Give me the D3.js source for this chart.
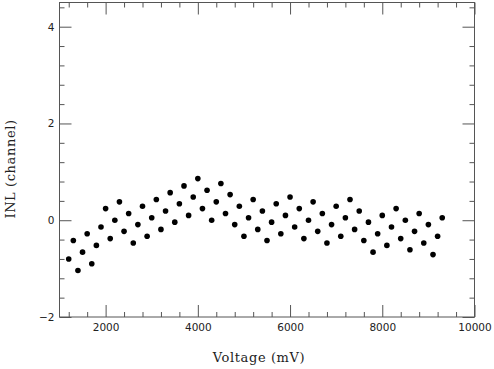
<!DOCTYPE html>
<html>
<head>
<meta charset="utf-8">
<script src="https://cdn.jsdelivr.net/npm/d3@7"></script>
<style>
  html, body { margin: 0; padding: 0; background: #fff; }
  svg { display: block; }
</style>
</head>
<body>
<svg id="chart" width="494" height="369"></svg>
<script>
// Data: voltage (mV) and INL (channel)
const voltages = d3.range(1200, 9301, 100);
const inl = [
  -0.80, -0.42, -1.04, -0.66, -0.28, -0.90, -0.52, -0.14, 0.24, -0.38,
   0.00,  0.38, -0.23,  0.14, -0.47, -0.09,  0.29, -0.33, 0.05,  0.43,
  -0.19,  0.19,  0.57, -0.04,  0.34,  0.71,  0.10,  0.48, 0.86,  0.24,
   0.62,  0.00,  0.38,  0.76,  0.14,  0.53, -0.09,  0.29, -0.33, 0.05,
   0.43, -0.19,  0.19, -0.42, -0.04,  0.34, -0.28,  0.10, 0.48, -0.14,
   0.24, -0.38,  0.00,  0.38, -0.23,  0.14, -0.47, -0.09, 0.29, -0.33,
   0.05,  0.43, -0.19,  0.19, -0.42, -0.04, -0.66, -0.28, 0.10, -0.52,
  -0.14,  0.24, -0.38,  0.00, -0.61, -0.23,  0.14, -0.47, -0.09, -0.71,
  -0.33,  0.05
];
const xMajorTicks = [2000, 4000, 6000, 8000, 10000];
const xMinorTicks = d3.range(1200, 10000, 400).filter(v => v % 2000 !== 0);
const yMajorTicks = [-2, 0, 2, 4];
const yMinorTicks = d3.range(-1.6, 4.5, 0.4).map(v => Math.round(v * 10) / 10).filter(v => Math.abs(v % 2) > 1e-6);
const xLabel = "Voltage (mV)";
const yLabel = "INL (channel)";

const svg = d3.select("#chart");
const L = 59.5, R = 474.5, T = 2.5, B = 317;
const x = d3.scaleLinear().domain([1000, 10000]).range([L, R]);
const y = d3.scaleLinear().domain([-2, 4.5]).range([B, T]);

const frameColor = "#555";
const majorLen = 12, minorLen = 5;

// Bottom axis (ticks inward)
const bottomMajor = d3.axisBottom(x).tickValues(xMajorTicks).tickSizeInner(-majorLen).tickSizeOuter(0).tickPadding(7).tickFormat(d3.format("d"));
const bottomMinor = d3.axisBottom(x).tickValues(xMinorTicks).tickSizeInner(-minorLen).tickSizeOuter(0).tickFormat("");
const topMajor = d3.axisTop(x).tickValues(xMajorTicks).tickSizeInner(-majorLen).tickSizeOuter(0).tickFormat("");
const topMinor = d3.axisTop(x).tickValues(xMinorTicks).tickSizeInner(-minorLen).tickSizeOuter(0).tickFormat("");
const leftMajor = d3.axisLeft(y).tickValues(yMajorTicks).tickSizeInner(-majorLen).tickSizeOuter(0).tickPadding(5).tickFormat(d => d < 0 ? "\u2212" + Math.abs(d) : String(d));
const leftMinor = d3.axisLeft(y).tickValues(yMinorTicks).tickSizeInner(-minorLen).tickSizeOuter(0).tickFormat("");
const rightMajor = d3.axisRight(y).tickValues(yMajorTicks).tickSizeInner(-majorLen).tickSizeOuter(0).tickFormat("");
const rightMinor = d3.axisRight(y).tickValues(yMinorTicks).tickSizeInner(-minorLen).tickSizeOuter(0).tickFormat("");

function styleAxis(g) {
  g.select(".domain").remove();
  g.selectAll(".tick line").attr("stroke", frameColor).attr("stroke-width", 1);
  g.selectAll(".tick text").attr("fill", "#222").style("font-family", "'DejaVu Sans', sans-serif").style("font-size", "10.5px");
}

svg.append("g").attr("transform", `translate(0,${B})`).call(bottomMajor).call(styleAxis);
svg.append("g").attr("transform", `translate(0,${B})`).call(bottomMinor).call(styleAxis);
svg.append("g").attr("transform", `translate(0,${T})`).call(topMajor).call(styleAxis);
svg.append("g").attr("transform", `translate(0,${T})`).call(topMinor).call(styleAxis);
svg.append("g").attr("transform", `translate(${L},0)`).call(leftMajor).call(styleAxis);
svg.append("g").attr("transform", `translate(${L},0)`).call(leftMinor).call(styleAxis);
svg.append("g").attr("transform", `translate(${R},0)`).call(rightMajor).call(styleAxis);
svg.append("g").attr("transform", `translate(${R},0)`).call(rightMinor).call(styleAxis);

// Frame
svg.append("rect")
  .attr("x", L).attr("y", T).attr("width", R - L).attr("height", B - T)
  .attr("fill", "none").attr("stroke", frameColor).attr("stroke-width", 1);

// Points
svg.append("g").selectAll("circle")
  .data(voltages.map((v, i) => ({ v, n: inl[i] })))
  .join("circle")
  .attr("cx", d => x(d.v))
  .attr("cy", d => y(d.n))
  .attr("r", 2.8)
  .attr("fill", "#000");

// Axis labels
svg.append("text")
  .attr("x", 259).attr("y", 362)
  .attr("text-anchor", "middle")
  .style("font-family", "'DejaVu Serif', serif")
  .style("font-size", "13px")
  .style("letter-spacing", "0.6px")
  .attr("fill", "#222")
  .text(xLabel);

svg.append("text")
  .attr("transform", "translate(15,169) rotate(-90)")
  .attr("text-anchor", "middle")
  .style("font-family", "'DejaVu Serif', serif")
  .style("font-size", "13px")
  .style("letter-spacing", "0.6px")
  .attr("fill", "#222")
  .text(yLabel);
</script>
</body>
</html>
